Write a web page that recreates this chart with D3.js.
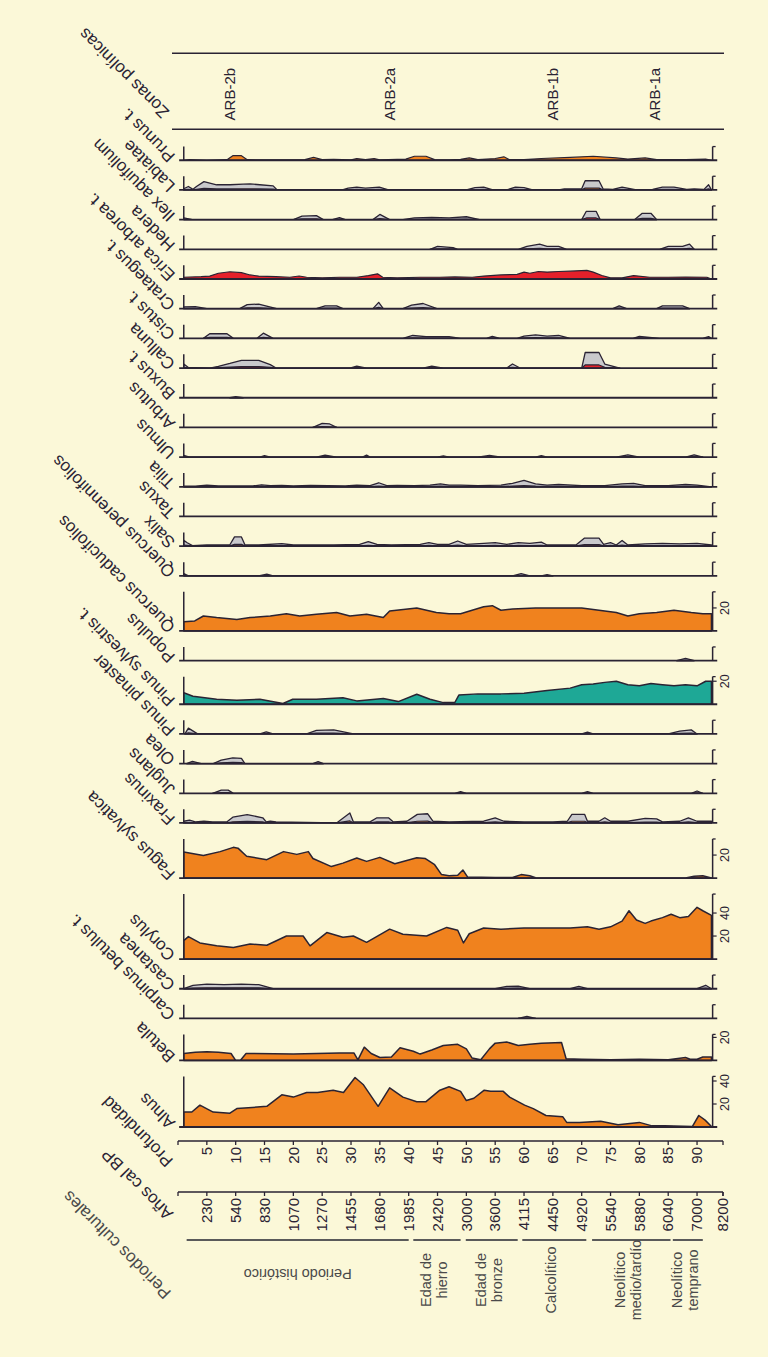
<!DOCTYPE html>
<html>
<head>
<meta charset="utf-8">
<script src="https://cdn.jsdelivr.net/npm/d3@7"></script>
<style>
  html, body { margin: 0; padding: 0; background: #fbf8d8; }
  svg { display: block; }
  text { font-family: "Liberation Sans", Arial, Helvetica, sans-serif; }
</style>
</head>
<body>
<svg id="chart" width="768" height="1357"></svg>
<script>
// ---------------- data ----------------
// Pollen percentages as [depth (cm), %] pairs, taxa listed from the bottom panel upwards.
const alnus = [[1,13],[2.4,13],[3.8,19],[6.1,13],[9,12],[10.2,16],[15.4,18],[18,28],[20,26],[22.3,30],[24.2,30],[26.9,32],[28.7,30],[30.7,43],[32.1,37],[34.7,18],[36.7,34],[39,26],[41.4,22],[43,22],[45.4,32],[47,35],[49,31],[50,23],[51.3,25],[53.1,32],[54.2,31],[56.4,31],[57.5,26],[60.1,19],[61.6,16],[63.8,10],[66.7,9],[67.4,4],[69.6,4],[73.3,5],[76.3,2],[80,4],[82.2,1],[84.4,1],[89.2,0.5],[90.3,10],[91.4,6],[92.5,0.5]];
const betula = [[1,6],[3,7],[5,7.5],[7,7],[9.2,6],[10,0],[10.8,0],[11.8,6],[20,5.5],[28,6.5],[30.5,6.5],[31.2,0.5],[32.3,11.5],[33.5,6],[35,2.5],[37,3],[38.5,11],[40.8,8],[42,5.5],[44,9],[46,13],[48.5,14],[50,10],[51,2],[52.5,0.5],[54,10],[55,15],[57,16],[59,13],[61,14],[63,15],[66.5,15.5],[67.3,1.5],[70,1],[75,0.5],[80,1],[85,0.5],[88,2.5],[88.8,1],[90,1],[91,3],[92.5,3]];
const carpinus = [[59,0],[60.5,0.35],[62,0]];
const castanea = [[1,0],[2.6,0.6],[5,0.8],[8,0.7],[11,0.8],[14,0.7],[16.5,0],[55,0],[57,0.4],[59,0.45],[61,0],[68,0],[69.5,0.4],[71,0],[90,0],[91.5,0.6],[92.5,0]];
const corylus = [[1,16],[1.8,19.5],[3.8,14],[6.7,11.5],[9.6,10],[12.5,13],[15.4,12],[18.8,20],[21.7,20],[22.9,11.5],[25.8,23],[28.6,19],[30.4,20],[32.7,14.5],[36.7,26],[39,21.5],[43.1,20],[46.6,27.5],[48.5,25],[49.5,14],[50.5,22],[53,27],[56,26],[60,27],[64,27],[68,27],[71,28],[73,26],[75,28],[77,33],[78.2,42],[79.5,34],[81,31],[82,33],[84,36],[85.5,39],[87,36],[88.5,37],[90,45],[91,42],[92.5,38]];
const fagus = [[1,22.6],[4.4,19.7],[7.3,23],[9.6,26.7],[10.4,26],[11.9,19],[15.4,16],[18.3,23],[20.6,20.6],[22.6,23],[23.4,17],[26.6,10],[28.6,13],[31,17.5],[32.7,14.5],[35,18],[37.6,12.5],[41.4,17.6],[42.9,17],[44.5,11.6],[45.7,3],[47,2],[48.5,2.5],[49.4,7],[50.2,1],[55,0.5],[58,0.5],[59.5,3],[61,2],[62,0.3],[70,0],[88,0],[89.5,1.5],[91,2],[92.5,0]];
const fraxinus = [[1,0.3],[2,0.5],[3,0.2],[4.5,0.3],[6,0.2],[8.5,0.2],[9.5,1],[12,1.45],[14.7,0.9],[15.3,0.2],[16,0.3],[17,0.2],[27.5,0],[29.8,1.75],[30.4,0.2],[33.3,0.2],[34.5,0.9],[36.5,0.9],[37.3,0.2],[39.7,0.3],[41.5,1.5],[43.3,1.6],[44.2,0.3],[47,0.2],[53,0.3],[55,0.9],[56.5,0.3],[60,0.2],[65,0.2],[67.5,0.3],[68.3,1.5],[70.5,1.5],[71,0.3],[73,0.3],[74,0.9],[75,0.3],[78,0.3],[81,0.8],[83,0.7],[84,0.2],[87,0.3],[88.5,0.9],[90,0.3],[92.5,0.3]];
const juglans = [[6,0],[7.5,0.55],[8.7,0.55],[9.6,0],[48,0],[49,0.3],[50,0],[70,0],[71,0.3],[72,0],[89,0],[90,0.4],[91,0]];
const olea = [[1.5,0],[2.5,0.4],[4,0],[6.1,0],[7.5,0.6],[9.5,1],[11,0.9],[11.6,0],[23.4,0],[24.3,0.35],[25.2,0]];
const pinusPinaster = [[1.2,0],[1.8,1],[3.4,0],[14.2,0],[15.3,0.35],[16.5,0],[22.3,0],[24,0.6],[27,0.7],[30.4,0],[70,0],[71,0.3],[72,0],[85,0],[87,0.5],[89,0.7],[90,0]];
const pinusSylvestris = [[1,10],[2.6,7],[6.7,4.3],[10.2,3.5],[14.2,4.3],[18.2,0.6],[19.9,4.3],[24,4.3],[28.6,5.7],[31,2.9],[35.6,5],[38.2,2.3],[41.4,8.7],[43.7,4.3],[46,1.4],[48,1.5],[48.7,8],[52,9],[56,9],[60,9.5],[64,12],[68,14],[70,17],[72,17.5],[74,19],[76,20],[78,17],[80,16],[82,18],[84,17],[86,16],[88,17],[90,16],[91.5,20],[92.5,20]];
const populus = [[86.5,0],[88,0.4],[89.5,0]];
const quercusCaducifolios = [[1,8],[2.9,8.7],[4.4,13],[6.7,11.6],[10.2,10],[12.5,11.6],[16,13],[18.8,15],[21.1,13],[24,14.5],[27.5,16],[29.8,13],[32.7,14.5],[35.6,11.6],[36.7,17.4],[41.4,20],[44.8,16],[47,15],[49,15],[51,18],[53,21],[54.5,22],[56,18],[58,19],[62,20],[66,20],[70,20],[73,18],[76,16],[78,13],[80,15],[83,16],[86,18],[89,16],[91,15],[92.5,15]];
const quercusPerennifolios = [[1,0.4],[1.8,0],[14,0],[15.4,0.3],[16.5,0],[58,0],[59.5,0.4],[61,0],[63,0],[64,0.2],[65,0]];
const salix = [[1,1],[1.6,0.6],[2.5,0.1],[5,0.2],[9,0.25],[9.8,1.6],[11,1.6],[11.6,0.25],[14,0.2],[18,0.45],[20,0.2],[24,0.2],[27,0.2],[31.5,0.3],[33,0.8],[34.5,0.3],[37,0.2],[42,0.3],[43.5,0.6],[45,0.3],[47,0.3],[48.5,0.9],[50,0.3],[53,0.5],[55,0.6],[57,0.3],[59,0.6],[61,0.5],[63,0.7],[64,0.2],[69,0.2],[70.5,1.4],[73,1.4],[73.8,0.3],[75,0.6],[76,0.2],[77,1],[78,0.2],[81,0.4],[84,0.5],[87,0.4],[90,0.5],[92.5,0.2]];
const taxus = [];
const tilia = [[1,0.1],[3,0.1],[5,0.3],[7,0.15],[13,0.15],[14.5,0.35],[16,0.2],[18,0.25],[20,0.15],[23,0.25],[26,0.2],[29,0.15],[31,0.3],[33.3,0.2],[34.8,0.7],[36.2,0.2],[38,0.25],[41,0.2],[43.7,0.3],[45.5,0.5],[47,0.3],[49,0.3],[52,0.2],[56,0.3],[58,0.6],[60,1.1],[62,0.5],[64,0.3],[66,0.4],[70,0.2],[74,0.2],[77,0.5],[79,0.6],[81,0.2],[85,0.2],[88,0.4],[90,0.3],[92.5,0]];
const ulmus = [[1,0.3],[2,0],[14.2,0],[15,0.25],[16,0],[24,0],[25.5,0.35],[27.5,0],[32,0],[32.7,0.35],[33.3,0],[45,0],[46,0.2],[47,0],[52,0],[54,0.3],[56,0],[62,0],[63,0.25],[64,0],[76,0],[78,0.4],[80,0],[88,0],[89.5,0.4],[91,0]];
const arbutus = [[23.4,0],[25,0.7],[26.3,0.6],[27.5,0]];
const buxus = [[9,0],[10,0.2],[11.3,0]];
const calluna = [[1,0.7],[1.8,0.1],[5.5,0],[7,0.3],[9,0.8],[11,1.35],[14,1.35],[16,0.6],[17,0],[29.8,0],[31,0.35],[32.7,0],[42.5,0],[44,0.35],[46,0],[57,0],[58,0.7],[59.3,0],[70,0],[70.6,2.7],[73,2.7],[74,0.7],[76.6,0]];
const cistus = [[4.4,0],[5.5,0.8],[8.5,0.8],[9.6,0],[13.7,0],[14.8,0.9],[16.5,0],[39,0],[40.7,0.5],[43,0.3],[47,0.3],[49,0],[53.5,0],[54.5,0.35],[55.8,0],[58.8,0],[60,0.4],[62,0.6],[64,0.4],[66,0.5],[68,0],[78.9,0],[80,0.35],[83.5,0],[91,0],[92,0.3],[92.5,0]];
const crataegus = [[1,0.3],[3,0.35],[5,0],[10.7,0],[12,0.7],[14,0.8],[17.1,0],[24,0],[25.5,0.5],[27.5,0.5],[28.6,0],[33.8,0],[34.8,1.1],[35.6,0],[39,0],[40.5,0.6],[42.5,0.9],[44.9,0],[75.4,0],[76.5,0.5],[77.8,0],[83,0],[84,0.5],[87.5,0.5],[88.7,0]];
const ericaArborea = [[1,1.5],[4,2],[5.5,2.5],[7,5],[9,6.3],[11,5.5],[12.5,3.5],[14,2.5],[17,2],[19.4,1.5],[21,2.6],[22.3,1.5],[25,1],[28,1.5],[31,1.5],[33,3],[34.6,4.5],[35.5,1.5],[38,1],[42,1.5],[45.4,1.5],[48,1.8],[51,1.5],[53,2.5],[56,3.5],[58.8,4],[60,6],[61,5],[62.5,6.5],[64,6],[66,6.5],[68,6.8],[70.9,7.5],[72,6],[73.5,3],[75,1],[77,1],[79,3],[81.8,1.5],[85,1.5],[88,1.7],[91.7,1.5],[92.5,0]];
const hedera = [[43.7,0],[45,0.5],[47.7,0.3],[48.5,0],[59,0],[60.5,0.5],[62.7,0.9],[64,0.5],[66,0.5],[67.4,0],[83.5,0],[85,0.5],[87.5,0.5],[88.7,0.9],[89.5,0]];
const ilex = [[1,0.3],[2.5,0],[20,0],[21.5,0.6],[24,0.7],[25.2,0],[26.8,0],[28,0.35],[29,0],[33.8,0],[35,0.9],[36.7,0],[39,0],[41,0.3],[44,0.4],[47,0.3],[50,0.5],[52.3,0],[70,0],[70.8,1.45],[72.5,1.45],[73.2,0],[79.2,0],[80.5,1.1],[82,1.1],[83,0]];
const labiatae = [[1,0.2],[1.8,0.6],[2.6,0.1],[3.2,0.6],[4.5,1.45],[6.7,0.9],[9,0.9],[11.3,1],[12.5,1.05],[14.2,0.9],[16.5,0.7],[17.2,0],[28.5,0],[29.5,0.3],[31,0.5],[32.5,0.3],[34.9,0.5],[36.5,0],[50,0],[51.5,0.4],[53,0.5],[54.6,0],[57,0],[58.5,0.5],[60,0.4],[61.5,0],[66,0],[67,0.2],[70,0.2],[70.6,1.6],[73,1.6],[73.7,0.2],[75.4,0.1],[77,0.5],[79.5,0],[82.3,0.1],[84,0.5],[86,0.5],[88.2,0.1],[89.5,0.2],[91.2,0.1],[92,0.9],[92.5,0]];
const prunus = [[1,0],[2,0.5],[5,0],[8.5,0.5],[9.5,4],[11,4],[12,0.5],[15,0.3],[22,0.5],[23.5,2.5],[25,0.5],[27,0.8],[30,0.3],[31,1.5],[32.5,0.5],[34,1.5],[35,0.3],[39.5,1],[41,3.5],[43,3.5],[44.5,0.5],[47,0.3],[49,0.8],[50.5,2],[52,0.5],[55,1.5],[56.5,3],[57.5,0.5],[60,0.5],[63,1.5],[68,2.5],[72,3.5],[76,2],[78,1],[81,2],[83,0.5],[88,0.5],[91.5,1],[92.5,0]];

const taxonNames = ["Alnus","Betula","Carpinus betulus t.","Castanea","Corylus","Fagus sylvatica","Fraxinus","Juglans","Olea","Pinus pinaster","Pinus sylvestris t.","Populus","Quercus caducifolios","Quercus perennifolios","Salix","Taxus","Tilia","Ulmus","Arbutus","Buxus t.","Calluna","Cistus t.","Crataegus t.","Erica arborea t.","Hedera","Ilex aquifolium","Labiatae","Prunus t."];
const taxonValues = [alnus, betula, carpinus, castanea, corylus, fagus, fraxinus, juglans, olea, pinusPinaster, pinusSylvestris, populus, quercusCaducifolios, quercusPerennifolios, salix, taxus, tilia, ulmus, arbutus, buxus, calluna, cistus, crataegus, ericaArborea, hedera, ilex, labiatae, prunus];
// Percentage scale ticks of the main taxa
const scaleTicks = { "Alnus": [20, 40], "Betula": [20], "Corylus": [20, 40], "Fagus sylvatica": [20], "Pinus sylvestris t.": [20], "Quercus caducifolios": [20] };

const depthTicks = [5,10,15,20,25,30,35,40,45,50,55,60,65,70,75,80,85,90];
const ageTickDepths = [5,10,15,20,25,30,35,40,45,50,55,60,65,70,75,80,85,90,94.5];
const ageLabels = ["230","540","830","1070","1270","1455","1680","1985","2420","3000","3600","4115","4450","4920","5540","5880","6040","7000","8200"];

const zoneNames = ["ARB-2b","ARB-2a","ARB-1b","ARB-1a"];
const zoneBounds = [1, 17, 56.5, 73.5, 92];

const periodNames = [["Periodo histórico"],["Edad de","hierro"],["Edad de","bronze"],["Calcolítico"],["Neolítico","medio/tardío"],["Neolítico","temprano"]];
const periodSpans = [[1.5,40],[40.8,49],[49.9,58.9],[59.7,70.8],[71.8,85.4],[85.8,91]];

// ---------------- styling ----------------
const INK = "#2a2333";
const ORANGE = "#f0821e";
const TEAL = "#1ea896";
const RED = "#e5202a";
const GREY = "#c9c9cc";
const PX_PER_PCT = 1.15;
const GAP = 16;
const CORE_TOP = 1, CORE_BOTTOM = 92.7;

const majorStyle = {
  "Alnus": { fill: ORANGE, extent: 44 },
  "Betula": { fill: ORANGE, extent: 22.6 },
  "Corylus": { fill: ORANGE, extent: 56.5 },
  "Fagus sylvatica": { fill: ORANGE, extent: 34 },
  "Pinus sylvestris t.": { fill: TEAL, extent: 24 },
  "Quercus caducifolios": { fill: ORANGE, extent: 34 },
  "Erica arborea t.": { fill: RED, extent: 11.9 }
};
const minorFill = { "Calluna": RED, "Ilex aquifolium": RED, "Prunus t.": ORANGE };
const EXAG = 5;
const noExag = new Set(["Erica arborea t.", "Prunus t."]);

// ---------------- drawing ----------------
const svg = d3.select("#chart");
svg.append("rect").attr("width", 768).attr("height", 1357).attr("fill", "#fbf8d8");

const x = d3.scaleLinear().domain([0, 94.5]).range([178, 723]);

// Stack the panels from the bottom upward
let base = 1127;
const panels = taxonNames.map((name, i) => {
  const st = majorStyle[name];
  const extent = st ? st.extent : 11.9;
  const p = { name, values: taxonValues[i], extent, base };
  base -= extent * PX_PER_PCT + GAP;
  return p;
});

const gPanels = svg.append("g");
panels.forEach(p => {
  const y = d3.scaleLinear().domain([0, p.extent]).range([p.base, p.base - p.extent * PX_PER_PCT]);
  const g = gPanels.append("g");
  const major = majorStyle[p.name] && p.name !== "Erica arborea t.";
  const vals = p.values.slice().sort((a, b) => a[0] - b[0]);

  if (vals.length) {
    if (!major && !noExag.has(p.name)) {
      const ex = d3.area().x(d => x(d[0])).y0(y(0)).y1(d => y(d[1] * EXAG));
      g.append("path").datum(vals).attr("d", ex)
        .attr("fill", GREY).attr("stroke", INK).attr("stroke-width", 1.3).attr("stroke-linejoin", "round");
    }
    const ar = d3.area().x(d => x(d[0])).y0(y(0)).y1(d => y(d[1]));
    let fill = ORANGE;
    if (majorStyle[p.name]) fill = majorStyle[p.name].fill;
    else if (minorFill[p.name]) fill = minorFill[p.name];
    g.append("path").datum(vals).attr("d", ar)
      .attr("fill", fill).attr("stroke", INK).attr("stroke-width", major ? 1.5 : 1.2).attr("stroke-linejoin", "round");
  }

  // baseline
  g.append("line").attr("x1", x(0.2)).attr("x2", x(93.5)).attr("y1", y(0)).attr("y2", y(0))
    .attr("stroke", INK).attr("stroke-width", 1.8);
  // left axis
  g.append("line").attr("x1", x(CORE_TOP)).attr("x2", x(CORE_TOP)).attr("y1", y(0)).attr("y2", y(p.extent))
    .attr("stroke", INK).attr("stroke-width", 1.5);
  // right axis with scale ticks
  const xr = x(CORE_BOTTOM);
  g.append("line").attr("x1", xr).attr("x2", xr).attr("y1", y(0)).attr("y2", y(p.extent))
    .attr("stroke", INK).attr("stroke-width", 1.5);
  g.append("line").attr("x1", xr).attr("x2", xr + 3).attr("y1", y(p.extent)).attr("y2", y(p.extent))
    .attr("stroke", INK).attr("stroke-width", 1.3);
  (scaleTicks[p.name] || []).forEach(t => {
    g.append("line").attr("x1", xr).attr("x2", xr + 4).attr("y1", y(t)).attr("y2", y(t))
      .attr("stroke", INK).attr("stroke-width", 1.2);
    g.append("text").attr("transform", `translate(${xr + 12},${y(t)}) rotate(-90)`)
      .attr("text-anchor", "middle").attr("dy", "0.35em")
      .attr("font-size", 12.5).attr("fill", INK).text(t);
  });

  // taxon name
  g.append("text").attr("transform", `translate(176,${p.base - 5}) rotate(-135)`)
    .attr("font-size", 17).attr("fill", INK).text(p.name);
});

// ---------------- pollen zones ----------------
const topPanel = panels[panels.length - 1];
const zoneBottom = topPanel.base - topPanel.extent * PX_PER_PCT - 17.4;
const zoneTop = zoneBottom - 76;
[zoneTop, zoneBottom].forEach(yy => {
  svg.append("line").attr("x1", 172).attr("x2", 724).attr("y1", yy).attr("y2", yy)
    .attr("stroke", INK).attr("stroke-width", 1.5);
});
zoneNames.forEach((z, i) => {
  const xc = x((zoneBounds[i] + zoneBounds[i + 1]) / 2);
  svg.append("text").attr("transform", `translate(${xc},${(zoneTop + zoneBottom) / 2 + 3}) rotate(-90)`)
    .attr("text-anchor", "middle").attr("dy", "0.35em").attr("font-size", 15).attr("fill", INK).text(z);
});
svg.append("text").attr("transform", `translate(170,${zoneBottom - 18}) rotate(-135)`)
  .attr("font-size", 17).attr("fill", INK).text("Zonas polínicas");

// ---------------- depth and age axes ----------------
function drawAxis(yAxis, tickDepths, labels, title, titleY) {
  const g = svg.append("g");
  g.append("line").attr("x1", x(0)).attr("x2", x(94.5)).attr("y1", yAxis).attr("y2", yAxis)
    .attr("stroke", INK).attr("stroke-width", 1.6);
  [0, 94.5].concat(tickDepths).forEach(d => {
    g.append("line").attr("x1", x(d)).attr("x2", x(d)).attr("y1", yAxis).attr("y2", yAxis + 4)
      .attr("stroke", INK).attr("stroke-width", 1.3);
  });
  tickDepths.forEach((d, i) => {
    g.append("text").attr("transform", `translate(${x(d)},${yAxis + 6}) rotate(-90)`)
      .attr("text-anchor", "end").attr("dy", "0.35em").attr("font-size", 15).attr("fill", INK)
      .text(labels[i]);
  });
  g.append("text").attr("transform", `translate(174,${titleY}) rotate(-135)`)
    .attr("font-size", 17).attr("fill", INK).text(title);
}
drawAxis(1141, depthTicks, depthTicks.map(String), "Profundidad", 1160);
drawAxis(1192, ageTickDepths, ageLabels, "Años cal BP", 1213);

// ---------------- cultural periods ----------------
const PERIOD_INK = "#4a4a4a";
const lineY = 1240;
periodSpans.forEach((s, i) => {
  svg.append("line").attr("x1", x(s[0])).attr("x2", x(s[1])).attr("y1", lineY).attr("y2", lineY)
    .attr("stroke", "#5a5a5a").attr("stroke-width", 2);
  const xc = (x(s[0]) + x(s[1])) / 2;
  const lines = periodNames[i];
  if (i === 0) {
    svg.append("text").attr("transform", `translate(${xc},${lineY + 34}) rotate(180)`)
      .attr("text-anchor", "middle").attr("dy", "0.35em").attr("font-size", 14.5).attr("fill", PERIOD_INK)
      .text(lines[0]);
  } else {
    const n = lines.length;
    lines.forEach((t, k) => {
      const xx = xc - 3 + (k - (n - 1) / 2) * 16;
      svg.append("text").attr("transform", `translate(${xx},${lineY + 40}) rotate(-90)`)
        .attr("text-anchor", "middle").attr("dy", "0.35em").attr("font-size", 14.5).attr("fill", PERIOD_INK)
        .text(t);
    });
  }
});
svg.append("text").attr("transform", `translate(172,1292) rotate(-135)`)
  .attr("font-size", 17).attr("fill", PERIOD_INK).text("Periodos culturales");
</script>
</body>
</html>
